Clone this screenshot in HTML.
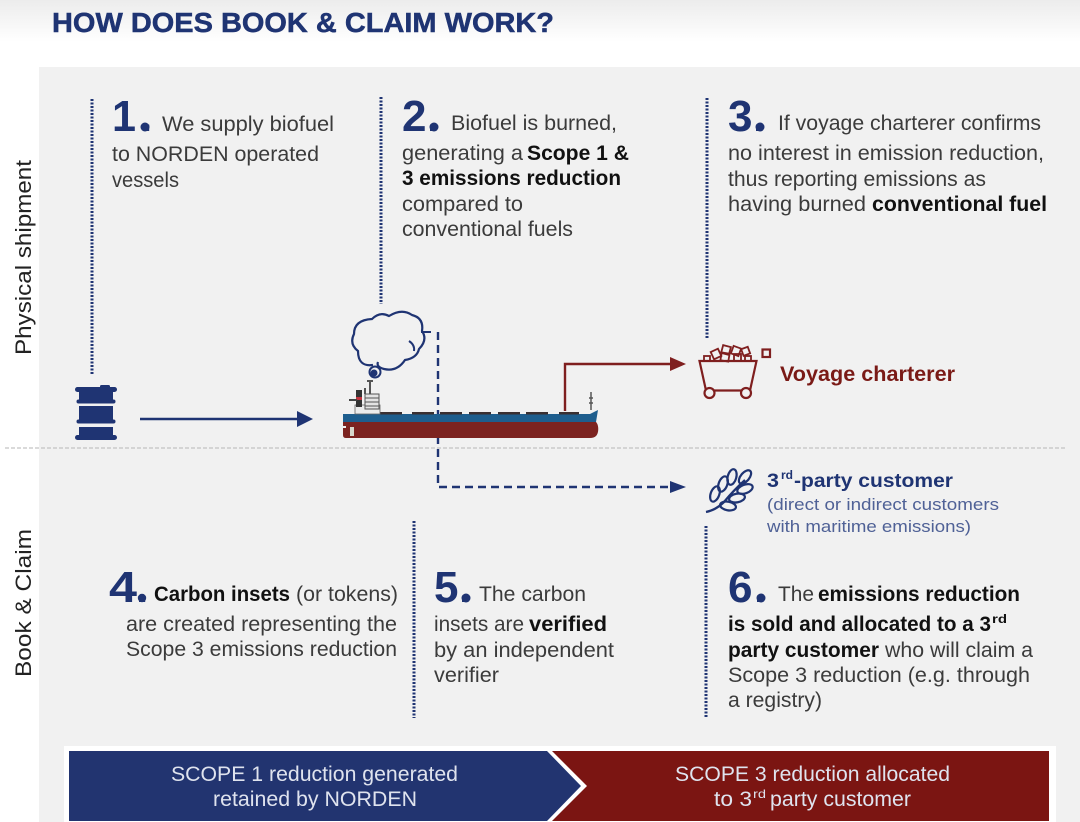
<!DOCTYPE html>
<html><head><meta charset="utf-8"><style>
html,body{margin:0;padding:0;background:#fff}
svg{display:block}
text{font-family:"Liberation Sans",sans-serif;white-space:pre}
.t{font-size:21px;fill:#3b3b3b}
.b{font-size:21px;fill:#111;font-weight:bold}
.n{font-size:44px;fill:#1f3473;font-weight:bold}
.w{font-size:21px;fill:#dfe3ee}
.s{font-size:12px;fill:#111;font-weight:bold}
.d{fill:none;stroke:#1f3473;stroke-width:3;stroke-dasharray:2 1.5}
</style></head><body>
<svg width="1080" height="822" viewBox="0 0 1080 822" xmlns="http://www.w3.org/2000/svg">
<defs><linearGradient id="g" x1="0" y1="0" x2="0" y2="1"><stop offset="0" stop-color="#ececec"/><stop offset="1" stop-color="#fff"/></linearGradient></defs>
<rect width="1080" height="822" fill="#fff"/>
<rect width="1080" height="42" fill="url(#g)"/>
<rect x="39" y="67" width="1041" height="755" fill="#f1f1f1"/>
<text x="52" y="32" font-size="28" font-weight="bold" fill="#1f3473" stroke="#1f3473" stroke-width="0.5" textLength="502" lengthAdjust="spacingAndGlyphs">HOW DOES BOOK &amp; CLAIM WORK?</text>

<text transform="translate(31,355) rotate(-90)" font-size="22" fill="#222" textLength="195" lengthAdjust="spacingAndGlyphs">Physical shipment</text>
<text transform="translate(31,677) rotate(-90)" font-size="22" fill="#222" textLength="148" lengthAdjust="spacingAndGlyphs">Book &amp; Claim</text>

<path class="d" d="M92 99V374M381 97V304M707 98V338M414 521V718M706 526V717"/>
<path d="M5 448H1067" stroke="#c4c4c4" stroke-width="1.2" stroke-dasharray="4 2" fill="none"/>

<!-- step 1 -->
<text class="n" x="112" y="131" textLength="24" lengthAdjust="spacingAndGlyphs">1</text><text class="n" x="140" y="131">.</text><circle cx="145" cy="127" r="4.500" fill="#1f3473"/>
<text class="t" x="162" y="131" textLength="172" lengthAdjust="spacingAndGlyphs">We supply biofuel</text>
<text class="t" x="112" y="161" textLength="207" lengthAdjust="spacingAndGlyphs">to NORDEN operated</text>
<text class="t" x="112" y="187" textLength="67" lengthAdjust="spacingAndGlyphs">vessels</text>
<!-- step 2 -->
<text class="n" x="402" y="131">2</text><text class="n" x="427" y="131">.</text><circle cx="434" cy="127" r="4.500" fill="#1f3473"/>
<text class="t" x="451" y="130" textLength="166" lengthAdjust="spacingAndGlyphs">Biofuel is burned,</text>
<text class="t" x="402" y="160" textLength="121" lengthAdjust="spacingAndGlyphs">generating a</text>
<text class="b" x="527" y="160" textLength="102" lengthAdjust="spacingAndGlyphs">Scope 1 &amp;</text>
<text class="b" x="402" y="185" textLength="219" lengthAdjust="spacingAndGlyphs">3 emissions reduction</text>
<text class="t" x="402" y="211" textLength="121" lengthAdjust="spacingAndGlyphs">compared to</text>
<text class="t" x="402" y="236" textLength="171" lengthAdjust="spacingAndGlyphs">conventional fuels</text>
<!-- step 3 -->
<text class="n" x="728" y="131">3</text><text class="n" x="753" y="131">.</text><circle cx="760" cy="127" r="4.500" fill="#1f3473"/>
<text class="t" x="778" y="130" textLength="263" lengthAdjust="spacingAndGlyphs">If voyage charterer confirms</text>
<text class="t" x="728" y="160" textLength="316" lengthAdjust="spacingAndGlyphs">no interest in emission reduction,</text>
<text class="t" x="728" y="186" textLength="258" lengthAdjust="spacingAndGlyphs">thus reporting emissions as</text>
<text class="t" x="728" y="211" textLength="138" lengthAdjust="spacingAndGlyphs">having burned</text>
<text class="b" x="872" y="211" textLength="175" lengthAdjust="spacingAndGlyphs">conventional fuel</text>
<!-- step 4 -->
<text class="n" x="109" y="602" textLength="28" lengthAdjust="spacingAndGlyphs">4</text><text class="n" x="136" y="602">.</text><circle cx="142" cy="598" r="4.200" fill="#1f3473"/>
<text class="b" x="154" y="601" textLength="136" lengthAdjust="spacingAndGlyphs">Carbon insets</text>
<text class="t" x="296" y="601" textLength="102" lengthAdjust="spacingAndGlyphs">(or tokens)</text>
<text class="t" x="126" y="631" textLength="271" lengthAdjust="spacingAndGlyphs">are created representing the</text>
<text class="t" x="126" y="656" textLength="271" lengthAdjust="spacingAndGlyphs">Scope 3 emissions reduction</text>
<!-- step 5 -->
<text class="n" x="434" y="602">5</text><text class="n" x="459" y="602">.</text><circle cx="466" cy="598" r="4.500" fill="#1f3473"/>
<text class="t" x="479" y="601" textLength="107" lengthAdjust="spacingAndGlyphs">The carbon</text>
<text class="t" x="434" y="631" textLength="90" lengthAdjust="spacingAndGlyphs">insets are</text>
<text class="b" x="529" y="631" textLength="78" lengthAdjust="spacingAndGlyphs">verified</text>
<text class="t" x="434" y="657" textLength="180" lengthAdjust="spacingAndGlyphs">by an independent</text>
<text class="t" x="434" y="682" textLength="65" lengthAdjust="spacingAndGlyphs">verifier</text>
<!-- step 6 -->
<text class="n" x="728" y="602">6</text><text class="n" x="754" y="602">.</text><circle cx="761" cy="598" r="4.500" fill="#1f3473"/>
<text class="t" x="778" y="601" textLength="36" lengthAdjust="spacingAndGlyphs">The</text>
<text class="b" x="818" y="601" textLength="202" lengthAdjust="spacingAndGlyphs">emissions reduction</text>
<text class="b" x="728" y="631" textLength="263" lengthAdjust="spacingAndGlyphs">is sold and allocated to a 3</text>
<text class="s" x="992" y="623" textLength="15" lengthAdjust="spacingAndGlyphs">rd</text>
<text class="b" x="728" y="657" textLength="151" lengthAdjust="spacingAndGlyphs">party customer</text>
<text class="t" x="885" y="657" textLength="148" lengthAdjust="spacingAndGlyphs">who will claim a</text>
<text class="t" x="728" y="682" textLength="302" lengthAdjust="spacingAndGlyphs">Scope 3 reduction (e.g. through</text>
<text class="t" x="728" y="707" textLength="94" lengthAdjust="spacingAndGlyphs">a registry)</text>

<!-- barrel -->
<g fill="#1f3473">
<rect x="75" y="387" width="42" height="5" rx="2.500"/><rect x="100" y="385" width="10" height="4" rx="1.500"/>
<rect x="79" y="391" width="34" height="10"/><rect x="76.500" y="399.500" width="39" height="4" rx="2"/>
<rect x="79" y="406" width="34" height="15"/><rect x="76.500" y="419.500" width="39" height="4" rx="2"/>
<rect x="79" y="427" width="34" height="10"/><rect x="75" y="435" width="42" height="5" rx="2.500"/>
</g>
<path d="M140 419H299" stroke="#1f3473" stroke-width="2.500"/>
<path d="M297 411L313 419L297 427Z" fill="#1f3473"/>

<!-- dashed connector, passes behind ship -->
<path d="M438 332V487H671" fill="none" stroke="#1f3473" stroke-width="2.400" stroke-dasharray="8 5"/>
<path d="M670 481L686 487L670 493Z" fill="#1f3473"/>

<!-- ship -->
<path d="M343 422H596C599 425 599 433 596 436Q594 438 590 438H346Q343 438 343 435Z" fill="#7c2320"/>
<path d="M343 414H590L598 410L596 422H343Z" fill="#1e5e8e"/>
<g fill="#3a3032">
<rect x="380" y="412" width="22" height="2.500"/><rect x="412" y="412" width="22" height="2.500"/><rect x="440" y="412" width="22" height="2.500"/><rect x="469" y="412" width="22" height="2.500"/><rect x="498" y="412" width="22" height="2.500"/><rect x="526" y="412" width="22" height="2.500"/><rect x="559" y="412" width="20" height="2.500"/>
</g>
<rect x="355" y="405" width="25" height="9" fill="#ececec" stroke="#666" stroke-width="0.800"/>
<rect x="356" y="390" width="6" height="17" fill="#333"/>
<rect x="365" y="394" width="14" height="15" fill="#e4e4e4" stroke="#555" stroke-width="1"/>
<path d="M365 398H379M365 402H379M365 406H379" stroke="#555" stroke-width="1"/>
<rect x="356" y="397" width="6" height="3" fill="#c0333f"/>
<path d="M349 400H357" stroke="#444" stroke-width="2"/>
<path d="M370 381V394M367 381H373M365 388V394" stroke="#555" stroke-width="2"/>
<path d="M591 392V410M589 398H593M589 403H593" stroke="#555" stroke-width="1.500"/>
<rect x="350" y="427" width="4" height="9" fill="#d8d8cc"/><rect x="343" y="426" width="3" height="2" fill="#f1f1f1"/>

<!-- cloud -->
<path d="M373 365Q358 367 358 351Q349 344 354 334Q354 320 372 319Q380 311 389 316Q402 308 412 315Q424 318 422 331Q428 340 419 349Q417 358 405 360Q397 372 384 369Q376 367 378 362" fill="none" stroke="#1f3473" stroke-width="2.200"/>
<path d="M421 332H431M409 341Q415 345 414 351" fill="none" stroke="#1f3473" stroke-width="2"/>
<circle cx="375" cy="372" r="5.500" fill="#f1f1f1" stroke="#1f3473" stroke-width="2"/>
<circle cx="374" cy="373" r="3.500" fill="#1f3473"/>

<!-- red connector -->
<path d="M565 411V364H673" fill="none" stroke="#7f1f1f" stroke-width="2.400"/>
<path d="M670 357L686 364L670 371Z" fill="#7f1f1f"/>

<!-- cart -->
<g fill="none" stroke="#7f1f1f" stroke-width="2.200">
<path d="M699.500 361H756.500L750 390.500H706Z"/>
<circle cx="709.500" cy="393" r="5" fill="#f1f1f1"/><circle cx="746" cy="393" r="5" fill="#f1f1f1"/>
<rect x="762.500" y="349.500" width="7.500" height="7.500"/>
<g stroke-width="1.800">
<rect x="704" y="356" width="6" height="5"/>
<rect x="712" y="350" width="8" height="8" transform="rotate(-25 716 354)"/>
<rect x="722" y="346" width="8" height="8" transform="rotate(15 726 350)"/>
<rect x="732" y="347" width="8" height="8" transform="rotate(20 736 351)"/>
<rect x="742" y="348" width="7" height="7" transform="rotate(-20 745 351)"/>
<rect x="721" y="353" width="8" height="8" transform="rotate(10 725 357)"/>
<rect x="734" y="354" width="7" height="7"/>
<rect x="745" y="356" width="6" height="5"/>
</g>
</g>
<text x="780" y="381" font-size="21" font-weight="bold" fill="#7a1a16" textLength="175" lengthAdjust="spacingAndGlyphs">Voyage charterer</text>

<!-- wheat -->
<g fill="none" stroke="#1f3473" stroke-width="2.200">
<path d="M706 512Q716 510 724 502Q733 491 745 480" stroke-width="2.300"/>
<ellipse cx="715" cy="494" rx="8" ry="4.300" transform="rotate(-70 715 494)"/>
<ellipse cx="723" cy="484" rx="8" ry="4.300" transform="rotate(-70 723 484)"/>
<ellipse cx="732" cy="477" rx="8" ry="4.300" transform="rotate(-75 732 477)"/>
<ellipse cx="745" cy="477" rx="8" ry="4.300" transform="rotate(-50 745 477)"/>
<ellipse cx="728" cy="506" rx="8" ry="4.300" transform="rotate(10 728 506)"/>
<ellipse cx="737" cy="498" rx="8" ry="4.300" transform="rotate(-10 737 498)"/>
<ellipse cx="745" cy="489" rx="8" ry="4.300" transform="rotate(-20 745 489)"/>
</g>
<text x="767" y="487" font-size="19" font-weight="bold" fill="#1f3473" textLength="12" lengthAdjust="spacingAndGlyphs">3</text>
<text x="781" y="479" font-size="12" font-weight="bold" fill="#1f3473" textLength="12" lengthAdjust="spacingAndGlyphs">rd</text>
<text x="794" y="487" font-size="19" font-weight="bold" fill="#1f3473" textLength="159" lengthAdjust="spacingAndGlyphs">-party customer</text>
<text x="767" y="510" font-size="17" fill="#4f6196" textLength="232" lengthAdjust="spacingAndGlyphs">(direct or indirect customers</text>
<text x="767" y="532" font-size="17" fill="#4f6196" textLength="204" lengthAdjust="spacingAndGlyphs">with maritime emissions)</text>

<!-- bottom banner -->
<rect x="64" y="746" width="992" height="76" fill="#fff"/>
<path d="M552 751H1049V821H552L587 786Z" fill="#7b1512"/>
<path d="M69 751H547L581 786L547 821H69Z" fill="#223470"/>
<text class="w" x="171" y="781" textLength="287" lengthAdjust="spacingAndGlyphs">SCOPE 1 reduction generated</text>
<text class="w" x="213" y="806" textLength="204" lengthAdjust="spacingAndGlyphs">retained by NORDEN</text>
<text class="w" x="675" y="781" textLength="275" lengthAdjust="spacingAndGlyphs">SCOPE 3 reduction allocated</text>
<text class="w" x="714" y="806" textLength="38" lengthAdjust="spacingAndGlyphs">to 3</text>
<text x="753" y="798" font-size="12" fill="#dfe3ee" textLength="13" lengthAdjust="spacingAndGlyphs">rd</text>
<text class="w" x="770" y="806" textLength="141" lengthAdjust="spacingAndGlyphs">party customer</text>
</svg>
</body></html>
